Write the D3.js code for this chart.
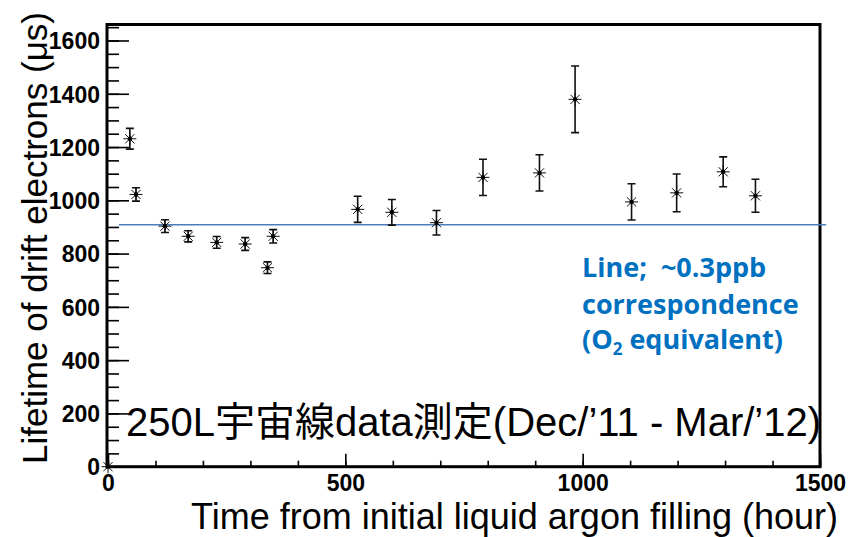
<!DOCTYPE html>
<html>
<head>
<meta charset="utf-8">
<script src="https://cdn.jsdelivr.net/npm/d3@7"></script>
<style>
  body { margin: 0; background: #fff; }
  svg { display: block; }
</style>
</head>
<body>
<svg id="chart"></svg>
<script>
const width = 849;
const height = 537;

// measured points: hours since filling, lifetime (us) and its error
const hours = [0, 46, 59, 120, 169, 229, 289, 336, 348, 526, 598, 692, 790, 909, 984, 1103, 1198, 1296, 1364];
const lifetime = [0, 1231, 1022, 903, 865, 842, 836, 747, 865, 966, 955, 916, 1086, 1103, 1379, 994, 1028, 1107, 1017];
const lifetimeErr = [0, 39, 25, 24, 21, 22, 24, 22, 25, 49, 48, 46, 68, 68, 125, 68, 71, 56, 62];

// reference line (~0.3 ppb O2 equivalent)
const refLifetime = 908;
const refHours = [23, 1513];

const xMajor = [0, 500, 1000, 1500];
const xMinor = d3.range(0, 1501, 100);
const yMajor = [0, 200, 400, 600, 800, 1000, 1200, 1400, 1600];
const yMinor = d3.range(0, 1651, 50);

const noteLines = ['Line;  ~0.3ppb', 'correspondence'];

const svg = d3.select('#chart')
    .attr('width', width)
    .attr('height', height);

svg.append('rect').attr('width', width).attr('height', height).attr('fill', '#fff');

const x = d3.scaleLinear().domain([0, 1500]).range([108, 820]);
const y = d3.scaleLinear().domain([0, 1660]).range([466.7, 24.5]);

// minor ticks
svg.append('g')
    .attr('transform', `translate(${x(0) - 1}, 0)`)
    .call(d3.axisLeft(y).tickValues(yMinor).tickSize(-12).tickFormat(''))
    .call(g => g.select('.domain').remove());

svg.append('g')
    .attr('transform', `translate(0, ${y(0)})`)
    .call(d3.axisBottom(x).tickValues(xMinor).tickSize(-6).tickFormat(''))
    .call(g => g.select('.domain').remove());

// major ticks + labels
const yAxis = svg.append('g')
    .attr('transform', `translate(${x(0) - 1}, 0)`)
    .call(d3.axisLeft(y).tickValues(yMajor).tickSize(-22).tickPadding(7).tickFormat(d3.format('d')));
yAxis.select('.domain').remove();

const xAxis = svg.append('g')
    .attr('transform', `translate(0, ${y(0)})`)
    .call(d3.axisBottom(x).tickValues(xMajor).tickSize(-13).tickPadding(8).tickFormat(d3.format('d')));
xAxis.select('.domain').remove();

svg.selectAll('.tick line').attr('stroke', '#000').attr('stroke-width', 1.6);
svg.selectAll('.tick text')
    .attr('fill', '#000')
    .style('font-family', '"Liberation Sans Narrow", "Liberation Sans", Arial, sans-serif')
    .style('font-weight', 'bold')
    .style('font-size', '23px');
yAxis.selectAll('.tick text').attr('dy', '0.36em');

// frame
svg.append('rect')
    .attr('x', x(0) - 1)
    .attr('y', y(1660))
    .attr('width', x(1500) - x(0) + 1)
    .attr('height', y(0) - y(1660))
    .attr('fill', 'none')
    .attr('stroke', '#000')
    .attr('stroke-width', 3);

// reference line
svg.append('line')
    .attr('x1', x(refHours[0]))
    .attr('x2', x(refHours[1]))
    .attr('y1', y(refLifetime))
    .attr('y2', y(refLifetime))
    .attr('stroke', '#4a7ebb')
    .attr('stroke-width', 1.6);

// data
const points = hours.map((h, i) => ({ h: h, v: lifetime[i], e: lifetimeErr[i] }));

const pt = svg.append('g').selectAll('g')
    .data(points)
    .enter()
    .append('g')
    .attr('transform', d => `translate(${x(d.h)}, ${y(d.v)})`);

pt.filter(d => d.e > 0).append('path')
    .attr('d', d => {
        const t = y(d.v + d.e) - y(d.v);
        const b = y(d.v - d.e) - y(d.v);
        return `M0,${t}V${b}M-4,${t}H4M-4,${b}H4`;
    })
    .attr('fill', 'none')
    .attr('stroke', '#111')
    .attr('stroke-width', 1.6);

pt.append('path')
    .attr('d', 'M-6.5,0H6.5M0,-6.5V6.5M-4.6,-4.6L4.6,4.6M-4.6,4.6L4.6,-4.6')
    .attr('fill', 'none')
    .attr('stroke', '#111')
    .attr('stroke-width', 1);

pt.append('circle').attr('r', 2.2).attr('fill', '#000');

// titles
svg.append('text')
    .attr('transform', `translate(47, 464) rotate(-90)`)
    .attr('text-anchor', 'start')
    .style('font-family', '"Liberation Sans", Arial, sans-serif')
    .style('font-size', '35px')
    .text('Lifetime of drift electrons (μs)');

svg.append('text')
    .attr('x', 838)
    .attr('y', 529)
    .attr('text-anchor', 'end')
    .style('font-family', '"Liberation Sans", Arial, sans-serif')
    .style('font-size', '36px')
    .text('Time from initial liquid argon filling (hour)');

svg.append('text')
    .attr('x', 126)
    .attr('y', 436)
    .style('font-family', '"Liberation Sans", Arial, "Noto Sans CJK JP", sans-serif')
    .style('font-size', '40px')
    .text('250L宇宙線data測定(Dec/’11 - Mar/’12)');

// note in blue
const note = svg.append('g')
    .style('font-family', '"Open Sans", sans-serif')
    .style('font-weight', 'bold')
    .style('font-size', '27px')
    .attr('fill', '#0070c0');

note.selectAll('text.l')
    .data(noteLines)
    .enter()
    .append('text')
    .attr('class', 'l')
    .attr('x', 582)
    .attr('y', (d, i) => 277 + i * 36.5)
    .style('white-space', 'pre')
    .text(d => d);

const last = note.append('text').attr('x', 582).attr('y', 349);
last.append('tspan').text('(O');
last.append('tspan').attr('dy', 6).style('font-size', '17px').text('2');
last.append('tspan').attr('dy', -6).style('white-space', 'pre').text(' equivalent)');
</script>
</body>
</html>
